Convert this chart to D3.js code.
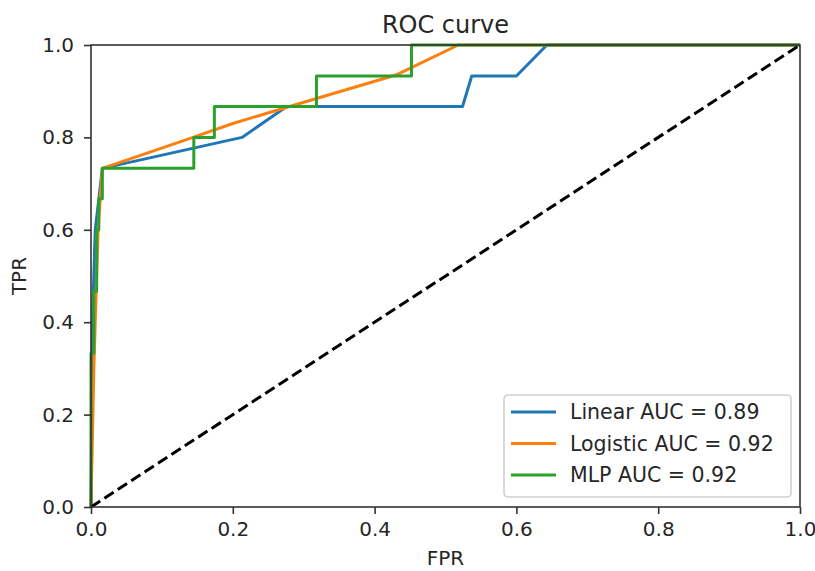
<!DOCTYPE html>
<html>
<head>
<meta charset="utf-8">
<script src="https://cdn.jsdelivr.net/npm/d3@7"></script>
<style>
  body { margin: 0; background: #fff; }
  text { font-family: "DejaVu Sans", sans-serif; fill: #262626; }
</style>
</head>
<body>
<div id="chart"></div>
<script>
// roc points
var linearFpr = [0, 0.002, 0.006, 0.016, 0.213, 0.276, 0.524, 0.537, 0.6, 0.643, 1];
var linearTpr = [0, 0.4, 0.6, 0.733, 0.8, 0.867, 0.867, 0.933, 0.933, 1, 1];

var logisticFpr = [0, 0.004, 0.01, 0.013, 0.016, 0.144, 0.2, 0.28, 0.43, 0.518, 1];
var logisticTpr = [0, 0.3, 0.6, 0.667, 0.733, 0.8, 0.83, 0.867, 0.935, 1, 1];

var mlpFpr = [0, 0, 0.004, 0.004, 0.008, 0.008, 0.011, 0.011, 0.016, 0.016, 0.145, 0.145,
  0.174, 0.174, 0.318, 0.318, 0.452, 0.452, 1];
var mlpTpr = [0, 0.333, 0.333, 0.467, 0.467, 0.6, 0.6, 0.667, 0.667, 0.733, 0.733, 0.8,
  0.8, 0.867, 0.867, 0.933, 0.933, 1, 1];

var seriesNames = ["Linear AUC = 0.89", "Logistic AUC = 0.92", "MLP AUC = 0.92"];
var seriesColors = ["#1f77b4", "#ff7f0e", "#2ca02c"];
var tickValues = [0, 0.2, 0.4, 0.6, 0.8, 1.0];

var margin = { top: 45, right: 15, bottom: 64, left: 91 },
  width = 815 - margin.left - margin.right,
  height = 571 - margin.top - margin.bottom;

var svg = d3
  .select("#chart")
  .append("svg")
  .attr("width", 815)
  .attr("height", 571)
  .append("g")
  .attr("transform", "translate(" + margin.left + "," + margin.top + ")");

var x = d3.scaleLinear().domain([0, 1]).range([0, width]);
var y = d3.scaleLinear().domain([0, 1]).range([height, 0]);

var series = [
  { fpr: linearFpr, tpr: linearTpr },
  { fpr: logisticFpr, tpr: logisticTpr },
  { fpr: mlpFpr, tpr: mlpTpr },
];

// clip so lines along the frame are cut like matplotlib
svg
  .append("clipPath")
  .attr("id", "clip")
  .append("rect")
  .attr("x", -2)
  .attr("y", -2)
  .attr("width", width + 4)
  .attr("height", height + 4);

var line = d3
  .line()
  .x(function (d) { return x(d[0]); })
  .y(function (d) { return y(d[1]); });

var plot = svg.append("g").attr("clip-path", "url(#clip)");

series.forEach(function (s, i) {
  var pts = s.fpr.map(function (f, j) { return [f, s.tpr[j]]; });
  plot
    .append("path")
    .datum(pts)
    .attr("fill", "none")
    .attr("stroke", seriesColors[i])
    .attr("stroke-width", 3)
    .attr("stroke-linejoin", "round")
    .attr("d", line);
});

// chance diagonal
plot
  .append("path")
  .datum([[0, 0], [1, 1]])
  .attr("fill", "none")
  .attr("stroke", "#000")
  .attr("stroke-width", 3)
  .attr("stroke-dasharray", "11,5")
  .attr("d", line);

// axes
var xAxis = svg
  .append("g")
  .attr("transform", "translate(0," + height + ")")
  .call(d3.axisBottom(x).tickValues(tickValues).tickFormat(d3.format(".1f")).tickSize(7).tickPadding(8));

var yAxis = svg
  .append("g")
  .call(d3.axisLeft(y).tickValues(tickValues).tickFormat(d3.format(".1f")).tickSize(7).tickPadding(10));

[xAxis, yAxis].forEach(function (a) {
  a.select(".domain").remove();
  a.selectAll("line").attr("stroke", "#333").attr("stroke-width", 1.6);
  a.selectAll("text")
    .style("font-size", "20px")
    .style("font-family", "'DejaVu Sans', sans-serif")
    .attr("fill", "#262626");
});

// frame
svg
  .append("rect")
  .attr("width", width)
  .attr("height", height)
  .attr("fill", "none")
  .attr("stroke", "#333")
  .attr("stroke-width", 1.6);

// title
svg
  .append("text")
  .attr("x", width / 2)
  .attr("y", -12)
  .attr("text-anchor", "middle")
  .style("font-size", "24px")
  .text("ROC curve");

// x-axis label
svg
  .append("text")
  .attr("x", width / 2)
  .attr("y", height + 58)
  .attr("text-anchor", "middle")
  .style("font-size", "20px")
  .text("FPR");

// y-axis label
svg
  .append("text")
  .attr("transform", "rotate(-90)")
  .attr("x", -height / 2)
  .attr("y", -65)
  .attr("text-anchor", "middle")
  .style("font-size", "20px")
  .text("TPR");

// legend
var legend = svg
  .append("g")
  .attr("transform", "translate(" + (width - 296) + "," + (height - 112) + ")");

legend
  .append("rect")
  .attr("width", 287)
  .attr("height", 102)
  .attr("rx", 4)
  .attr("fill", "#fff")
  .attr("fill-opacity", 0.8)
  .attr("stroke", "#d0d0d0")
  .attr("stroke-width", 1.6);

var rows = legend
  .selectAll(".row")
  .data(seriesNames)
  .enter()
  .append("g")
  .attr("class", "row")
  .attr("transform", function (d, i) {
    return "translate(0," + (17 + i * 31.5) + ")";
  });

rows
  .append("line")
  .attr("x1", 7)
  .attr("x2", 52)
  .attr("stroke", function (d, i) { return seriesColors[i]; })
  .attr("stroke-width", 3);

rows
  .append("text")
  .attr("x", 66)
  .attr("dy", "0.36em")
  .style("font-size", "20.5px")
  .text(function (d) { return d; });
</script>
</body>
</html>
